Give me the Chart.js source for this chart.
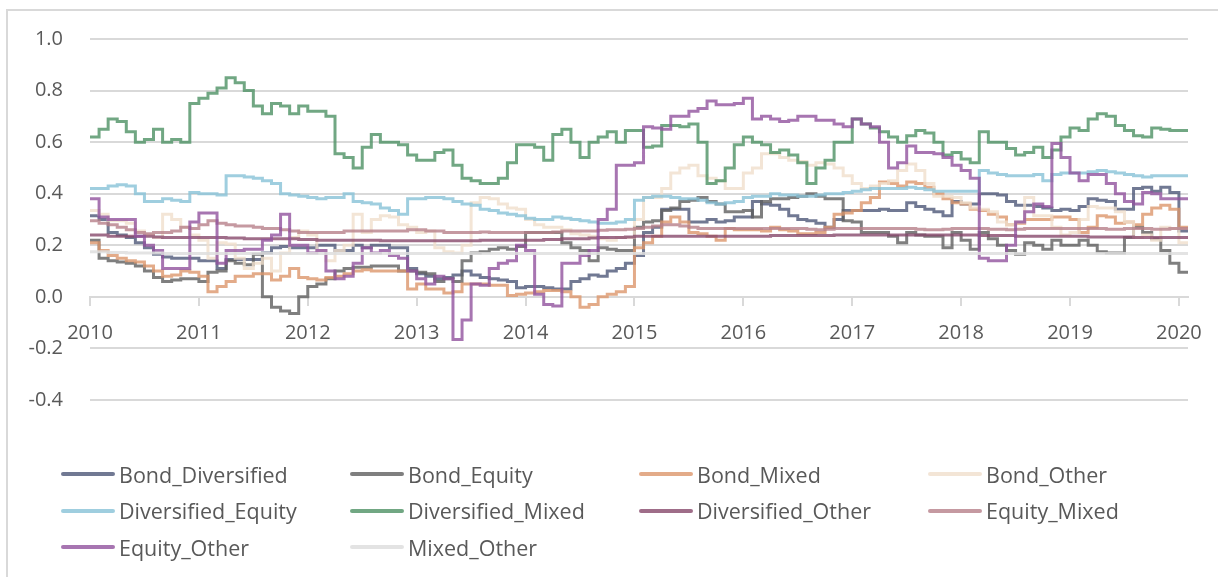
<!DOCTYPE html>
<html>
<head>
<meta charset="utf-8">
<title>Pairwise correlations</title>
<script src="https://cdn.jsdelivr.net/npm/chart.js@4.4.1/dist/chart.umd.min.js"></script>
<style>
    html, body { margin: 0; padding: 0; background: #fff; }
    body { width: 1218px; height: 577px; overflow: hidden; position: relative; font-family: 'Open Sans', sans-serif; }
    #frame { position: absolute; left: 6px; top: 9px; width: 1300px; height: 700px; border: 2px solid #d9d9d9; box-sizing: border-box; }
    #myChart { position: absolute; left: 0; top: 0; }
    #legend { position: absolute; left: 61px; top: 456px; display: grid; grid-template-columns: 289px 289px 289px 289px; grid-auto-rows: 36.5px; }
    .item { display: flex; align-items: center; color: #595959; font-size: 21.5px; white-space: nowrap; }
    .swatch { width: 54px; height: 4px; margin-right: 4px; border-radius: 2px; }
</style>
</head>
<body>
<div id="frame"></div>
<canvas id="myChart" width="1218" height="577"></canvas>
<div id="legend"></div>
<script>
var years = [2010, 2011, 2012, 2013, 2014, 2015, 2016, 2017, 2018, 2019, 2020];
var months = ['01', '02', '03', '04', '05', '06', '07', '08', '09', '10', '11', '12'];
var yTicks = [-0.4, -0.2, 0.0, 0.2, 0.4, 0.6, 0.8, 1.0];

var seriesNames = ['Bond_Diversified', 'Bond_Equity', 'Bond_Mixed', 'Bond_Other', 'Diversified_Equity',
    'Diversified_Mixed', 'Diversified_Other', 'Equity_Mixed', 'Equity_Other', 'Mixed_Other'];
var seriesColors = ['rgba(78, 88, 120, 0.8)', 'rgba(95, 95, 95, 0.8)', 'rgba(220, 150, 108, 0.8)',
    'rgba(240, 222, 204, 0.8)', 'rgba(135, 194, 215, 0.8)', 'rgba(78, 145, 100, 0.8)',
    'rgba(135, 72, 108, 0.8)', 'rgba(182, 128, 138, 0.8)', 'rgba(145, 82, 158, 0.8)', 'rgba(222, 222, 222, 0.85)'];

// monthly values, Jan 2010 .. Feb 2020
var bondDiversified = [
    0.315, 0.30, 0.25, 0.24, 0.23, 0.21, 0.19, 0.165, 0.155, 0.15, 0.15, 0.15,
    0.14, 0.14, 0.11, 0.145, 0.145, 0.145, 0.145, 0.17, 0.19, 0.195, 0.19, 0.19,
    0.19, 0.20, 0.20, 0.18, 0.18, 0.20, 0.19, 0.20, 0.20, 0.19, 0.19, 0.11,
    0.09, 0.08, 0.07, 0.075, 0.085, 0.10, 0.085, 0.075, 0.07, 0.065, 0.06, 0.035,
    0.04, 0.04, 0.035, 0.03, 0.03, 0.06, 0.07, 0.085, 0.08, 0.10, 0.11, 0.13,
    0.16, 0.25, 0.27, 0.34, 0.34, 0.34, 0.29, 0.29, 0.30, 0.29, 0.295, 0.31,
    0.31, 0.37, 0.36, 0.355, 0.34, 0.315, 0.30, 0.295, 0.285, 0.27, 0.30, 0.335,
    0.335, 0.335, 0.335, 0.34, 0.335, 0.335, 0.365, 0.35, 0.34, 0.33, 0.315, 0.37,
    0.36, 0.36, 0.40, 0.40, 0.395, 0.37, 0.355, 0.355, 0.35, 0.345, 0.335, 0.34,
    0.335, 0.35, 0.38, 0.375, 0.37, 0.34, 0.34, 0.42, 0.425, 0.41, 0.425, 0.405,
    0.255, 0.255];
var bondEquity = [
    0.22, 0.15, 0.14, 0.135, 0.13, 0.12, 0.10, 0.075, 0.06, 0.065, 0.07, 0.07,
    0.06, 0.095, 0.10, 0.14, 0.13, 0.125, 0.165, 0.0, -0.04, -0.055, -0.065, 0.0,
    0.04, 0.05, 0.07, 0.10, 0.11, 0.115, 0.115, 0.12, 0.12, 0.12, 0.10, 0.10,
    0.095, 0.09, 0.06, 0.07, 0.06, 0.14, 0.17, 0.175, 0.185, 0.19, 0.185, 0.195,
    0.25, 0.25, 0.25, 0.25, 0.21, 0.19, 0.18, 0.14, 0.19, 0.185, 0.18, 0.18,
    0.27, 0.29, 0.295, 0.335, 0.345, 0.37, 0.375, 0.385, 0.37, 0.36, 0.33, 0.33,
    0.335, 0.31, 0.37, 0.38, 0.38, 0.385, 0.39, 0.40, 0.39, 0.38, 0.38, 0.295,
    0.29, 0.25, 0.25, 0.25, 0.235, 0.21, 0.25, 0.24, 0.235, 0.235, 0.19, 0.25,
    0.22, 0.185, 0.25, 0.225, 0.20, 0.18, 0.165, 0.21, 0.20, 0.185, 0.22, 0.20,
    0.20, 0.22, 0.20, 0.175, 0.17, 0.17, 0.23, 0.27, 0.25, 0.225, 0.18, 0.13,
    0.095, 0.095];
var bondMixed = [
    0.21, 0.18, 0.16, 0.15, 0.14, 0.135, 0.12, 0.10, 0.08, 0.085, 0.10, 0.095,
    0.08, 0.02, 0.04, 0.06, 0.08, 0.08, 0.09, 0.09, 0.065, 0.08, 0.11, 0.075,
    0.07, 0.065, 0.075, 0.08, 0.09, 0.10, 0.105, 0.10, 0.10, 0.10, 0.10, 0.03,
    0.05, 0.03, 0.03, 0.015, 0.02, 0.05, 0.05, 0.05, 0.045, 0.045, 0.005, 0.01,
    0.015, 0.02, 0.025, 0.025, 0.02, 0.0, -0.04, -0.03, 0.0, 0.01, 0.02, 0.04,
    0.19, 0.21, 0.235, 0.29, 0.31, 0.29, 0.25, 0.245, 0.235, 0.22, 0.265, 0.26,
    0.26, 0.26, 0.255, 0.27, 0.26, 0.255, 0.245, 0.245, 0.25, 0.27, 0.32, 0.325,
    0.335, 0.365, 0.385, 0.445, 0.44, 0.43, 0.445, 0.44, 0.425, 0.40, 0.38, 0.365,
    0.36, 0.34, 0.335, 0.32, 0.31, 0.28, 0.285, 0.30, 0.30, 0.30, 0.31, 0.31,
    0.30, 0.25, 0.27, 0.315, 0.31, 0.285, 0.29, 0.28, 0.32, 0.345, 0.355, 0.34,
    0.27, 0.27];
var bondOther = [
    0.335, 0.32, 0.295, 0.295, 0.285, 0.255, 0.24, 0.23, 0.32, 0.30, 0.27, 0.24,
    0.22, 0.15, 0.21, 0.205, 0.15, 0.11, 0.13, 0.15, 0.10, 0.17, 0.23, 0.255,
    0.24, 0.18, 0.14, 0.18, 0.20, 0.32, 0.25, 0.30, 0.315, 0.31, 0.28, 0.27,
    0.25, 0.255, 0.19, 0.175, 0.17, 0.20, 0.365, 0.385, 0.38, 0.36, 0.345, 0.34,
    0.30, 0.28, 0.27, 0.27, 0.26, 0.245, 0.24, 0.235, 0.225, 0.22, 0.23, 0.23,
    0.30, 0.385, 0.385, 0.42, 0.48, 0.50, 0.51, 0.47, 0.46, 0.45, 0.42, 0.42,
    0.48, 0.50, 0.555, 0.555, 0.54, 0.53, 0.525, 0.51, 0.52, 0.515, 0.50, 0.47,
    0.44, 0.42, 0.43, 0.44, 0.45, 0.49, 0.515, 0.49, 0.44, 0.39, 0.39, 0.385,
    0.365, 0.345, 0.34, 0.33, 0.29, 0.28, 0.29, 0.385, 0.315, 0.315, 0.27, 0.24,
    0.25, 0.30, 0.35, 0.345, 0.345, 0.33, 0.29, 0.23, 0.24, 0.22, 0.27, 0.265,
    0.21, 0.21];
var diversifiedEquity = [
    0.42, 0.42, 0.43, 0.435, 0.43, 0.40, 0.37, 0.37, 0.38, 0.375, 0.37, 0.405,
    0.40, 0.40, 0.395, 0.47, 0.47, 0.465, 0.46, 0.45, 0.44, 0.40, 0.395, 0.39,
    0.385, 0.38, 0.385, 0.385, 0.40, 0.37, 0.365, 0.36, 0.345, 0.335, 0.32, 0.38,
    0.38, 0.385, 0.385, 0.38, 0.37, 0.36, 0.355, 0.34, 0.335, 0.325, 0.32, 0.315,
    0.305, 0.30, 0.30, 0.31, 0.305, 0.30, 0.295, 0.29, 0.285, 0.285, 0.29, 0.30,
    0.375, 0.385, 0.39, 0.39, 0.385, 0.38, 0.38, 0.375, 0.365, 0.36, 0.365, 0.37,
    0.385, 0.39, 0.39, 0.40, 0.395, 0.395, 0.39, 0.39, 0.395, 0.40, 0.40, 0.405,
    0.41, 0.415, 0.42, 0.42, 0.42, 0.42, 0.425, 0.42, 0.415, 0.41, 0.41, 0.41,
    0.41, 0.41, 0.49, 0.48, 0.475, 0.47, 0.47, 0.47, 0.475, 0.45, 0.475, 0.48,
    0.48, 0.48, 0.485, 0.49, 0.485, 0.48, 0.475, 0.47, 0.465, 0.47, 0.47, 0.47,
    0.47, 0.47];
var diversifiedMixed = [
    0.62, 0.65, 0.69, 0.68, 0.64, 0.60, 0.61, 0.65, 0.60, 0.61, 0.60, 0.75,
    0.77, 0.79, 0.81, 0.85, 0.83, 0.80, 0.74, 0.71, 0.75, 0.74, 0.71, 0.74,
    0.72, 0.72, 0.70, 0.555, 0.54, 0.50, 0.58, 0.63, 0.60, 0.60, 0.59, 0.55,
    0.53, 0.53, 0.56, 0.57, 0.51, 0.46, 0.45, 0.44, 0.44, 0.46, 0.52, 0.59,
    0.59, 0.58, 0.53, 0.63, 0.65, 0.60, 0.54, 0.60, 0.62, 0.64, 0.60, 0.645,
    0.645, 0.58, 0.585, 0.665, 0.665, 0.66, 0.67, 0.60, 0.44, 0.45, 0.50, 0.59,
    0.62, 0.60, 0.59, 0.56, 0.57, 0.55, 0.52, 0.44, 0.50, 0.53, 0.60, 0.60,
    0.69, 0.67, 0.655, 0.64, 0.62, 0.60, 0.625, 0.645, 0.635, 0.60, 0.55, 0.56,
    0.535, 0.52, 0.64, 0.60, 0.60, 0.575, 0.55, 0.56, 0.58, 0.54, 0.57, 0.62,
    0.655, 0.645, 0.69, 0.71, 0.70, 0.665, 0.645, 0.625, 0.62, 0.655, 0.65, 0.645,
    0.645, 0.645];
var diversifiedOther = [
    0.24, 0.24, 0.235, 0.235, 0.235, 0.235, 0.235, 0.232, 0.23, 0.23, 0.23, 0.23,
    0.23, 0.23, 0.23, 0.228, 0.228, 0.225, 0.225, 0.225, 0.225, 0.225, 0.225, 0.222,
    0.222, 0.22, 0.22, 0.22, 0.22, 0.22, 0.22, 0.22, 0.218, 0.218, 0.218, 0.218,
    0.218, 0.218, 0.218, 0.218, 0.218, 0.218, 0.218, 0.22, 0.22, 0.22, 0.22, 0.22,
    0.22, 0.22, 0.222, 0.222, 0.225, 0.225, 0.225, 0.228, 0.23, 0.23, 0.23, 0.232,
    0.235, 0.235, 0.235, 0.235, 0.235, 0.235, 0.235, 0.235, 0.235, 0.235, 0.235, 0.235,
    0.235, 0.235, 0.235, 0.238, 0.238, 0.238, 0.238, 0.238, 0.238, 0.238, 0.24, 0.24,
    0.24, 0.24, 0.24, 0.24, 0.24, 0.24, 0.24, 0.24, 0.24, 0.24, 0.24, 0.24,
    0.24, 0.24, 0.238, 0.238, 0.238, 0.238, 0.235, 0.235, 0.235, 0.235, 0.235, 0.235,
    0.235, 0.235, 0.232, 0.232, 0.232, 0.232, 0.232, 0.23, 0.23, 0.23, 0.23, 0.23,
    0.23, 0.23];
var equityMixed = [
    0.295, 0.285, 0.28, 0.27, 0.26, 0.25, 0.245, 0.25, 0.25, 0.255, 0.27, 0.265,
    0.28, 0.295, 0.285, 0.28, 0.275, 0.275, 0.27, 0.265, 0.265, 0.26, 0.255, 0.25,
    0.25, 0.25, 0.25, 0.25, 0.255, 0.255, 0.255, 0.255, 0.255, 0.255, 0.255, 0.26,
    0.26, 0.255, 0.255, 0.25, 0.25, 0.25, 0.25, 0.252, 0.25, 0.25, 0.25, 0.25,
    0.25, 0.25, 0.25, 0.252, 0.255, 0.255, 0.255, 0.255, 0.258, 0.26, 0.26, 0.262,
    0.265, 0.27, 0.275, 0.28, 0.28, 0.275, 0.27, 0.265, 0.265, 0.265, 0.265, 0.265,
    0.265, 0.265, 0.265, 0.265, 0.265, 0.265, 0.265, 0.262, 0.26, 0.262, 0.265, 0.265,
    0.265, 0.265, 0.265, 0.265, 0.265, 0.265, 0.265, 0.262, 0.26, 0.26, 0.262, 0.265,
    0.265, 0.265, 0.265, 0.262, 0.262, 0.26, 0.262, 0.265, 0.265, 0.265, 0.265, 0.265,
    0.265, 0.265, 0.265, 0.265, 0.262, 0.262, 0.265, 0.265, 0.265, 0.262, 0.262, 0.265,
    0.265, 0.265];
var equityOther = [
    0.38, 0.31, 0.30, 0.30, 0.30, 0.235, 0.20, 0.18, 0.11, 0.11, 0.11, 0.29,
    0.325, 0.325, 0.13, 0.18, 0.18, 0.185, 0.185, 0.22, 0.24, 0.32, 0.20, 0.20,
    0.17, 0.18, 0.10, 0.07, 0.08, 0.13, 0.19, 0.17, 0.18, 0.16, 0.15, 0.10,
    0.07, 0.05, 0.08, 0.07, -0.165, -0.09, 0.05, 0.045, 0.11, 0.13, 0.14, 0.20,
    0.18, 0.01, -0.03, -0.035, 0.13, 0.13, 0.16, 0.18, 0.30, 0.34, 0.51, 0.51,
    0.52, 0.66, 0.655, 0.65, 0.70, 0.70, 0.72, 0.73, 0.76, 0.745, 0.745, 0.75,
    0.77, 0.69, 0.70, 0.69, 0.68, 0.685, 0.70, 0.70, 0.685, 0.685, 0.67, 0.66,
    0.69, 0.67, 0.66, 0.60, 0.50, 0.52, 0.585, 0.56, 0.56, 0.555, 0.54, 0.51,
    0.49, 0.46, 0.15, 0.14, 0.14, 0.20, 0.29, 0.33, 0.36, 0.35, 0.595, 0.54,
    0.48, 0.45, 0.475, 0.475, 0.44, 0.40, 0.37, 0.36, 0.405, 0.40, 0.38, 0.38,
    0.38, 0.38];
var mixedOther = [
    0.175, 0.175, 0.172, 0.172, 0.17, 0.17, 0.17, 0.17, 0.168, 0.168, 0.168, 0.168,
    0.168, 0.168, 0.168, 0.168, 0.168, 0.168, 0.168, 0.168, 0.168, 0.168, 0.168, 0.168,
    0.168, 0.168, 0.168, 0.168, 0.168, 0.168, 0.168, 0.168, 0.168, 0.168, 0.168, 0.168,
    0.168, 0.168, 0.168, 0.168, 0.168, 0.168, 0.168, 0.168, 0.168, 0.168, 0.168, 0.168,
    0.168, 0.168, 0.168, 0.168, 0.168, 0.168, 0.168, 0.168, 0.168, 0.168, 0.168, 0.168,
    0.168, 0.168, 0.168, 0.168, 0.168, 0.168, 0.168, 0.168, 0.168, 0.168, 0.168, 0.168,
    0.168, 0.168, 0.168, 0.168, 0.168, 0.168, 0.168, 0.168, 0.168, 0.168, 0.168, 0.168,
    0.168, 0.168, 0.168, 0.168, 0.168, 0.168, 0.168, 0.168, 0.168, 0.168, 0.168, 0.168,
    0.168, 0.168, 0.168, 0.168, 0.168, 0.168, 0.168, 0.168, 0.168, 0.168, 0.168, 0.168,
    0.168, 0.168, 0.168, 0.168, 0.168, 0.168, 0.168, 0.168, 0.168, 0.168, 0.168, 0.168,
    0.168, 0.168];

var seriesValues = [bondDiversified, bondEquity, bondMixed, bondOther, diversifiedEquity,
    diversifiedMixed, diversifiedOther, equityMixed, equityOther, mixedOther];

document.addEventListener('DOMContentLoaded', function () {
    var labels = [];
    years.forEach(function (y) {
        months.forEach(function (m) {
            if (y < 2020 || m <= '02') labels.push(y + '-' + m);
        });
    });

    var datasets = seriesNames.map(function (name, i) {
        return {
            label: name,
            data: seriesValues[i],
            borderColor: seriesColors[i],
            backgroundColor: seriesColors[i],
            borderWidth: 3,
            pointRadius: 0,
            stepped: true,
            fill: false,
            order: seriesNames.length - i
        };
    });

    var tickFont = { family: "'Open Sans', sans-serif", size: 20 };

    var ctx = document.getElementById('myChart').getContext('2d');
    var chart = new Chart(ctx, {
        type: 'line',
        data: {
            labels: labels,
            datasets: datasets
        },
        options: {
            responsive: false,
            animation: false,
            layout: { padding: { left: 0, top: 39, right: 26, bottom: 177 } },
            plugins: {
                legend: { display: false },
                tooltip: { enabled: false }
            },
            scales: {
                x: {
                    type: 'category',
                    position: { y: 0 },
                    grid: { drawOnChartArea: false, drawTicks: true, tickLength: 8, color: '#d9d9d9', lineWidth: 2 },
                    border: { color: '#d9d9d9', width: 2 },
                    ticks: {
                        autoSkip: false,
                        maxRotation: 0,
                        padding: 16,
                        color: '#595959',
                        font: tickFont,
                        callback: function (v) { return labels[v].slice(0, 4); }
                    },
                    afterBuildTicks: function (scale) {
                        scale.ticks = scale.ticks.filter(function (t) { return t.value % 12 === 0; });
                    }
                },
                y: {
                    min: yTicks[0],
                    max: yTicks[yTicks.length - 1],
                    grid: { color: '#d9d9d9', lineWidth: 2, drawTicks: false },
                    border: { display: false },
                    ticks: {
                        stepSize: 0.2,
                        padding: 27,
                        color: '#595959',
                        font: tickFont,
                        callback: function (v) { return v.toFixed(1); }
                    },
                    afterBuildTicks: function (scale) {
                        scale.ticks = yTicks.map(function (v) { return { value: v }; });
                    },
                    afterFit: function (scale) { scale.width = 90; }
                }
            }
        }
    });

    // legend laid out as a 4-column grid like the original
    var legend = document.getElementById('legend');
    chart.data.datasets.forEach(function (ds) {
        var item = document.createElement('div');
        item.className = 'item';
        var sw = document.createElement('span');
        sw.className = 'swatch';
        sw.style.background = ds.borderColor;
        var txt = document.createElement('span');
        txt.textContent = ds.label;
        item.appendChild(sw);
        item.appendChild(txt);
        legend.appendChild(item);
    });
});
</script>
</body>
</html>
